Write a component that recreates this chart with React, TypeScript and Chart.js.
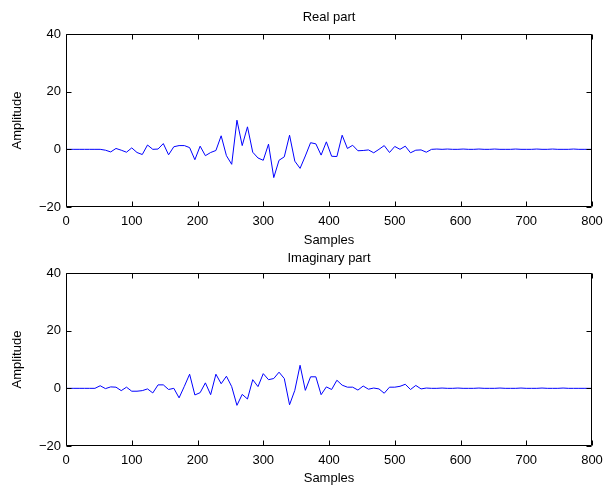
import React, { useEffect, useRef } from "react";
import { Chart, registerables } from "chart.js";

Chart.register(...registerables);

// sample spacing of the plotted vertices (every 8th sample, offset 4)
const STEP = 8;
const OFFSET = 4;
const X_MIN = 0;
const X_MAX = 800;
const Y_MIN = -20;
const Y_MAX = 40;
const xTicks = [0, 100, 200, 300, 400, 500, 600, 700, 800];
const yTicks = [-20, 0, 20, 40];

const realPart = [
  0, 0, 0, 0, 0, 0, 0, -0.3, -0.9, 0.3,
  -0.3, -1.0, 0.5, -1.1, -1.8, 1.5, 0, 0.1, 2.0, -1.9,
  0.9, 1.3, 1.3, 0.6, -3.6, 1.1, -2.2, -1.1, -0.4, 4.7,
  -2.2, -5.2, 10.1, 1.3, 7.8, -1.0, -3.0, -3.8, 1.8, -9.8,
  -3.8, -2.6, 4.9, -4.1, -6.6, -2.3, 2.3, 1.9, -2.0, 2.6,
  -2.4, -2.5, 4.9, 0.3, 1.4, -0.5, -0.4, -0.2, -1.2, 0,
  1.3, -1.1, 1.0, 0, 1.1, -1.2, -0.3, -0.2, -1.0, 0,
  0.1, 0, 0.1, 0, 0, 0.1, 0, 0, 0.1, 0,
  0, 0.1, 0, 0, 0, 0.1, 0, 0, 0, 0.1,
  0, 0, 0.1, 0, 0, 0, 0.1, 0, 0, 0,
];

const imagPart = [
  0, 0, 0, 0, 0, 0, 0.9, -0.1, 0.5, 0.4,
  -0.8, 0.4, -1.0, -1.0, -0.8, -0.2, -1.6, 1.2, 1.2, -0.4,
  0, -3.3, 0.7, 4.9, -2.3, -1.5, 1.9, -2.2, 4.9, 1.6,
  4.2, 0.6, -5.9, -2.1, -3.7, 3.0, 0.6, 5.1, 3.0, 3.4,
  5.6, 3.4, -5.7, -0.7, 8.0, -0.7, 4.0, 4.0, -2.2, 0.5,
  -0.4, 2.8, 1.1, 0.4, 0.4, -0.6, 0.8, -0.3, 0.1, -0.2,
  -1.7, 0.4, 0.4, 0.7, 1.4, -0.4, 1.0, -0.2, 0.1, 0,
  0, 0.1, 0, 0, 0.1, 0, 0, 0, 0.1, 0,
  0, 0, 0.1, 0, 0, 0, 0.1, 0, 0, 0,
  0.1, 0, 0, 0, 0.1, 0, 0, 0, 0, 0,
];

const FONT = '"Liberation Sans", Arial, Helvetica, sans-serif';

function toPoints(values: number[]) {
  const pts = values.map((v, k) => ({ x: k * STEP + OFFSET, y: v }));
  return [{ x: X_MIN, y: 0 }, ...pts, { x: X_MAX, y: 0 }];
}

const matlabBox = {
  id: "matlabBox",
  afterDraw(chart: any, _args: any, opts: any) {
    const { ctx, chartArea: a, scales } = chart;
    const L = Math.round(a.left) + 0.5;
    const R = Math.round(a.right) - 0.5;
    const T = Math.round(a.top) + 0.5;
    const B = Math.round(a.bottom) - 0.5;
    ctx.save();
    ctx.strokeStyle = "#000";
    ctx.lineWidth = 1;
    ctx.beginPath();
    ctx.rect(L, T, R - L, B - T);
    const tl = 5;
    xTicks.forEach((v) => {
      const px = Math.round(scales.x.getPixelForValue(v)) + 0.5;
      ctx.moveTo(px, B);
      ctx.lineTo(px, B - tl);
      ctx.moveTo(px, T);
      ctx.lineTo(px, T + tl);
    });
    yTicks.forEach((v) => {
      const py = Math.round(scales.y.getPixelForValue(v)) + 0.5;
      ctx.moveTo(L, py);
      ctx.lineTo(L + tl, py);
      ctx.moveTo(R, py);
      ctx.lineTo(R - tl, py);
    });
    ctx.stroke();
    ctx.fillStyle = "#000";
    ctx.font = `13px ${FONT}`;
    ctx.textAlign = "center";
    ctx.textBaseline = "middle";
    ctx.fillText(opts.title, (a.left + a.right) / 2, opts.titleY);
    ctx.restore();
  },
};

function makeConfig(values: number[], title: string, titleY: number, padTop: number, xHeight: number, xTitlePad: number): any {
  return {
    type: "line",
    data: {
      datasets: [
        {
          data: toPoints(values),
          borderColor: "#0000ff",
          borderWidth: 1,
          pointRadius: 0,
          tension: 0,
          fill: false,
        },
      ],
    },
    options: {
      responsive: false,
      animation: false,
      devicePixelRatio: 1,
      layout: { padding: { left: 0, right: 14, top: padTop, bottom: 0 } },
      plugins: {
        legend: { display: false },
        tooltip: { enabled: false },
        title: { display: false },
        matlabBox: { title, titleY },
      },
      scales: {
        x: {
          type: "linear",
          min: X_MIN,
          max: X_MAX,
          afterFit: (s: any) => {
            s.height = xHeight;
            s.paddingLeft = 0;
            s.paddingRight = 0;
          },
          afterBuildTicks: (s: any) => {
            s.ticks = xTicks.map((v) => ({ value: v }));
          },
          grid: { display: false, drawTicks: false },
          border: { display: false },
          ticks: { color: "#000", padding: 7, maxRotation: 0, autoSkip: false, font: { family: FONT, size: 13 } },
          title: {
            display: true,
            text: "Samples",
            color: "#000",
            font: { family: FONT, size: 13 },
            padding: { top: 0, bottom: xTitlePad },
          },
        },
        y: {
          type: "linear",
          min: Y_MIN,
          max: Y_MAX,
          afterFit: (s: any) => {
            s.width = 66;
            s.paddingTop = 0;
            s.paddingBottom = 0;
          },
          afterBuildTicks: (s: any) => {
            s.ticks = yTicks.map((v) => ({ value: v }));
          },
          grid: { display: false, drawTicks: false },
          border: { display: false },
          ticks: {
            color: "#000",
            padding: 5,
            font: { family: FONT, size: 13 },
            callback: (v: any) => String(v).replace("-", "\u2212"),
          },
          title: {
            display: true,
            text: "Amplitude",
            color: "#000",
            font: { family: FONT, size: 13 },
            padding: { top: 10, bottom: 0 },
          },
        },
      },
    },
    plugins: [matlabBox],
  };
}

export default function App() {
  const topRef = useRef<HTMLCanvasElement | null>(null);
  const botRef = useRef<HTMLCanvasElement | null>(null);

  useEffect(() => {
    const c1 = new Chart(topRef.current as HTMLCanvasElement, makeConfig(realPart, "Real part", 17, 34, 45, 4));
    const c2 = new Chart(botRef.current as HTMLCanvasElement, makeConfig(imagPart, "Imaginary part", 10, 25, 43, 3));
    return () => {
      c1.destroy();
      c2.destroy();
    };
  }, []);

  return (
    <div style={{ position: "fixed", left: 0, top: 0, width: 606, height: 489, background: "#fff", overflow: "hidden" }}>
      <canvas ref={topRef} width={606} height={252} style={{ position: "absolute", left: 0, top: 0, width: 606, height: 252 }} />
      <canvas ref={botRef} width={606} height={241} style={{ position: "absolute", left: 0, top: 248, width: 606, height: 241 }} />
    </div>
  );
}
